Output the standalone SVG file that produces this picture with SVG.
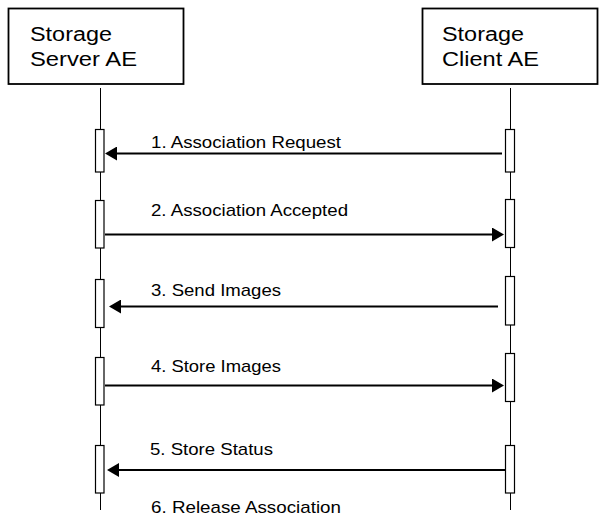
<svg xmlns="http://www.w3.org/2000/svg" width="605" height="517" viewBox="0 0 605 517">
<style>
.box{fill:#fff;stroke:#000;stroke-width:1.8}
.life{stroke:#000;stroke-width:1;fill:none}
.bar{fill:#fff;stroke:#000;stroke-width:1.2}
.msg{stroke:#000;stroke-width:2;fill:none}
.hd{font-family:"Liberation Sans",Arial,sans-serif;font-size:20px;fill:#000}
.lb{font-family:"Liberation Sans",Arial,sans-serif;font-size:17px;fill:#000}
</style>
<defs>
<marker id="ah" viewBox="0 0 12 14" refX="0" refY="7" markerWidth="12" markerHeight="14" markerUnits="userSpaceOnUse" orient="auto">
<path d="M0,0 L12,7 L0,14 Z" fill="#000"/>
</marker>
</defs>
<rect width="605" height="517" fill="#fff"/>
<g id="server">
<rect class="box" x="8.5" y="8.5" width="175" height="75.5"/>
<text class="hd" x="30" y="41" textLength="82" lengthAdjust="spacingAndGlyphs">Storage</text>
<text class="hd" x="30" y="66" textLength="107" lengthAdjust="spacingAndGlyphs">Server AE</text>
<line class="life" x1="100.5" y1="88" x2="100.5" y2="510"/>
<rect class="bar" x="95.5" y="129.5" width="8.5" height="42.5"/>
<rect class="bar" x="95.5" y="200.5" width="8.5" height="47.5"/>
<rect class="bar" x="95.5" y="279.5" width="8.5" height="48"/>
<rect class="bar" x="95.5" y="357.5" width="8.5" height="47.5"/>
<rect class="bar" x="95.5" y="445.5" width="8.5" height="47.5"/>
</g>
<g id="client">
<rect class="box" x="422.5" y="8.5" width="175" height="75.5"/>
<text class="hd" x="442" y="41" textLength="82" lengthAdjust="spacingAndGlyphs">Storage</text>
<text class="hd" x="442" y="66" textLength="97" lengthAdjust="spacingAndGlyphs">Client AE</text>
<line class="life" x1="510.5" y1="88" x2="510.5" y2="510"/>
<rect class="bar" x="505.5" y="129.5" width="9" height="42.5"/>
<rect class="bar" x="505.5" y="199.5" width="9" height="48"/>
<rect class="bar" x="505.5" y="276.5" width="9" height="48.5"/>
<rect class="bar" x="505.5" y="353.5" width="9" height="48"/>
<rect class="bar" x="505.5" y="445.5" width="9" height="47.5"/>
</g>
<g id="connectors">
<line class="msg" x1="502" y1="153.5" x2="117" y2="153.5" marker-end="url(#ah)"/>
<line class="msg" x1="105" y1="234.5" x2="492" y2="234.5" marker-end="url(#ah)"/>
<line class="msg" x1="498" y1="306.5" x2="121" y2="306.5" marker-end="url(#ah)"/>
<line class="msg" x1="105" y1="385.5" x2="492" y2="385.5" marker-end="url(#ah)"/>
<line class="msg" x1="505" y1="470" x2="119" y2="470" marker-end="url(#ah)"/>
<text class="lb" x="151" y="148" textLength="190" lengthAdjust="spacingAndGlyphs">1. Association Request</text>
<text class="lb" x="151" y="216" textLength="197" lengthAdjust="spacingAndGlyphs">2. Association Accepted</text>
<text class="lb" x="151" y="295.5" textLength="130" lengthAdjust="spacingAndGlyphs">3. Send Images</text>
<text class="lb" x="151" y="371.5" textLength="130" lengthAdjust="spacingAndGlyphs">4. Store Images</text>
<text class="lb" x="150" y="455" textLength="123" lengthAdjust="spacingAndGlyphs">5. Store Status</text>
<text class="lb" x="151" y="513" textLength="190" lengthAdjust="spacingAndGlyphs">6. Release Association</text>
</g>
</svg>
